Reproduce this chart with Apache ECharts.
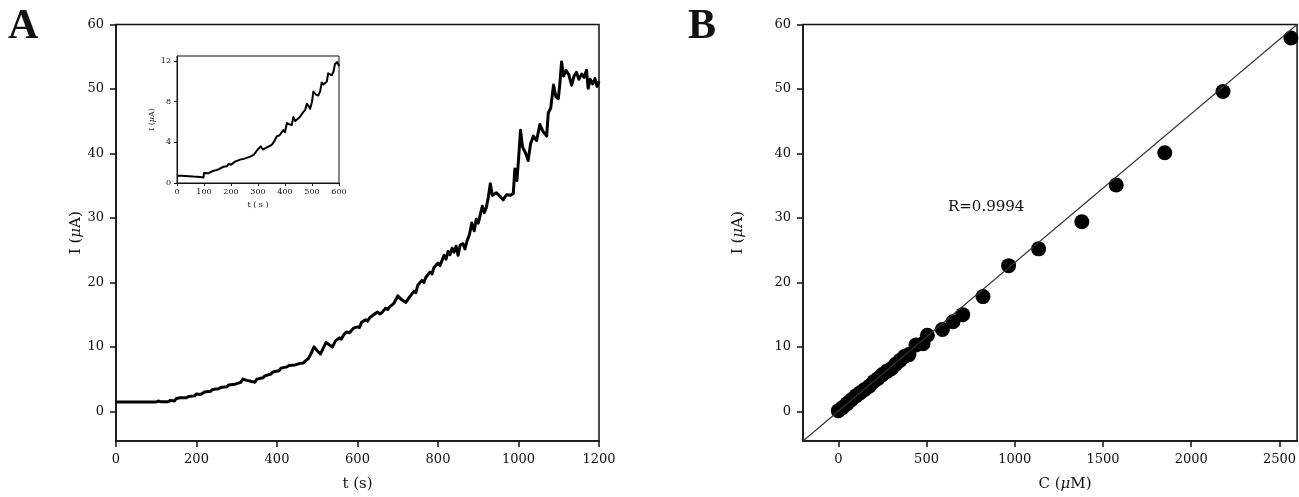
<!DOCTYPE html>
<html>
<head>
<meta charset="utf-8">
<script src="https://cdn.jsdelivr.net/npm/echarts@6/dist/echarts.min.js"></script>
<style>
html,body{margin:0;padding:0;background:#fff;}
#c{width:1299px;height:497px;}
</style>
</head>
<body>
<div id="c"></div>
<script>
// Panel A: amperometric i-t curve, [t (s), I (uA)]
var curveA = [
[0,1.45],[20,1.45],[40,1.45],[60,1.45],[80,1.45],[100,1.45],[105,1.6],[110,1.5],[130,1.5],[135,1.7],[145,1.6],
[150,2.0],[160,2.1],[175,2.1],[180,2.3],[195,2.4],[200,2.7],[210,2.6],[220,3.0],[235,3.1],[240,3.4],[255,3.5],
[260,3.7],[275,3.8],[280,4.1],[295,4.2],[300,4.3],[310,4.5],[315,5.0],[325,4.8],[340,4.6],[345,4.5],[350,5.0],
[365,5.2],[370,5.5],[385,5.8],[390,6.1],[405,6.3],[410,6.7],[425,6.9],[430,7.1],[445,7.2],[455,7.4],[465,7.5],
[470,7.8],[478,8.2],[485,9.0],[492,10.0],[500,9.4],[508,8.9],[515,9.8],[522,10.7],[530,10.3],[538,10.0],[545,10.9],
[555,11.4],[560,11.2],[565,11.8],[572,12.3],[580,12.2],[590,12.9],[600,13.1],[605,13.0],[610,13.8],[620,14.2],[625,14.0],[630,14.5],[640,15.0],
[650,15.4],[655,15.1],[660,15.3],[670,16.0],[675,15.8],[680,16.2],[690,16.7],[700,17.9],[710,17.3],[720,16.9],[730,17.8],[740,18.6],
[745,18.4],[750,19.6],[760,20.3],[765,20.0],[770,20.8],[780,21.6],[785,21.3],[790,22.3],[800,23.0],[805,22.6],[810,23.4],[815,24.2],[820,23.6],[825,24.8],
[830,24.3],[835,25.3],[840,24.7],[845,25.6],[850,24.2],[855,25.8],[862,26.0],[867,25.2],[872,26.4],[878,27.4],
[884,29.2],[890,28.0],[895,29.8],[900,29.2],[905,30.5],[910,31.8],[915,30.8],[920,31.6],[925,33.2],[930,35.3],[935,33.5],
[945,33.9],[955,33.3],[962,32.8],[970,33.6],[980,33.5],[987,33.8],[991,37.6],[996,35.8],[1000,39.0],[1005,43.6],
[1010,41.0],[1018,40.0],[1024,38.9],[1030,41.5],[1037,42.7],[1045,42.0],[1053,44.5],[1060,43.5],[1070,42.7],
[1074,46.3],[1080,47.0],[1087,50.6],[1093,48.8],[1099,48.5],[1103,51.0],[1107,54.2],[1112,52.0],[1118,52.9],
[1125,52.2],[1132,50.6],[1138,52.0],[1144,52.6],[1150,51.5],[1157,52.3],[1163,51.8],[1169,52.9],[1173,50.1],
[1178,51.5],[1184,50.8],[1190,51.6],[1195,50.4],[1200,51.2]
];
// Inset: [t (s), I (uA)]
var curveInset = [
[0,0.71],[15,0.71],[30,0.70],[37,0.65],[60,0.63],[86,0.59],[98,0.55],[100,0.98],[115,0.95],[130,1.15],[150,1.3],
[172,1.6],[185,1.65],[191,1.9],[200,1.8],[215,2.1],[234,2.3],[250,2.4],[271,2.6],[285,2.8],[296,3.2],[310,3.6],
[318,3.3],[326,3.4],[340,3.6],[351,3.75],[360,4.1],[370,4.6],[380,4.7],[394,5.2],[400,5.0],[407,5.9],[415,5.8],
[425,5.7],[431,6.5],[438,6.1],[444,6.2],[455,6.5],[468,7.0],[475,7.2],[481,7.8],[487,7.6],[493,7.3],[500,8.0],
[505,9.0],[515,8.7],[523,8.6],[530,9.0],[536,9.9],[542,9.7],[548,9.6],[555,10.0],[560,10.8],[567,10.7],
[573,10.6],[580,11.0],[585,11.7],[594,11.9],[600,11.5]
];
// Panel B: calibration points
var concB = [0,25,50,75,100,125,150,175,200,225,250,275,300,325,350,375,400,440,480,505,590,650,705,820,965,1135,1380,1575,1850,2180,2565];
var currB = [0.1,0.6,1.2,1.8,2.4,2.9,3.4,3.9,4.6,5.1,5.7,6.2,6.6,7.3,7.9,8.5,8.8,10.3,10.5,11.8,12.7,13.9,15.0,17.8,22.6,25.2,29.4,35.1,40.1,49.6,57.9];
var fitLine = [[-200,-4.6],[2600,60.0]];
var yTicks = [0,10,20,30,40,50,60];
var xTicksA = [0,200,400,600,800,1000,1200];
var xTicksB = [0,500,1000,1500,2000,2500];
var xTicksInset = [0,100,200,300,400,500,600];
var yTicksInset = [0,4,8,12];

var F = 'DejaVu Serif';
var TC = '#111';
var AC = '#111';
function plain(v){ return String(v); }

function axisCommon(fs, tickLen, lineW){
  return {
    axisLine:{show:true,onZero:false,lineStyle:{color:AC,width:lineW}},
    axisTick:{show:true,inside:false,length:tickLen,lineStyle:{color:AC,width:lineW}},
    splitLine:{show:false},
    axisLabel:{fontFamily:F,fontSize:fs,color:TC}
  };
}
function mk(base, extra){
  var o = JSON.parse(JSON.stringify(base));
  for (var k in extra){
    if (typeof extra[k]==='object' && !Array.isArray(extra[k]) && o[k]) { for (var j in extra[k]) o[k][j]=extra[k][j]; }
    else o[k]=extra[k];
  }
  o.axisLabel.formatter = plain;
  return o;
}
var nameRich = {
  n:{fontFamily:F,fontSize:15,color:TC},
  m:{fontFamily:F,fontSize:15,color:TC,fontStyle:'italic'}
};
var nameRichS = {
  n:{fontFamily:F,fontSize:8,color:TC},
  m:{fontFamily:F,fontSize:8,color:TC,fontStyle:'italic'}
};

var main = axisCommon(13,6,1.5);
var small = axisCommon(8,3,1);

var xAxes = [
  mk(main,{gridIndex:0,type:'value',min:0,max:1200,name:'t (s)',nameLocation:'middle',nameGap:36,
    nameTextStyle:{fontFamily:F,fontSize:15,color:TC},
    axisTick:{customValues:xTicksA},axisLabel:{customValues:xTicksA,margin:12}}),
  mk(main,{gridIndex:1,type:'value',min:-200,max:2600,name:'{n|C (}{m|μ}{n|M)}',nameLocation:'middle',nameGap:36,
    nameTextStyle:{rich:nameRich,padding:[0,0,0,30]},
    axisTick:{customValues:xTicksB},axisLabel:{customValues:xTicksB,margin:12}}),
  mk(small,{gridIndex:2,type:'value',min:0,max:600,name:'{n|t ( s )}',nameLocation:'middle',nameGap:18,
    nameTextStyle:{rich:nameRichS},
    axisTick:{customValues:xTicksInset},axisLabel:{customValues:xTicksInset,margin:5}})
];
var yAxes = [
  mk(main,{gridIndex:0,type:'value',min:-4.6,max:60,name:'{n|I (}{m|μ}{n|A)}',nameLocation:'middle',nameGap:25,
    nameTextStyle:{rich:nameRich},
    axisTick:{customValues:yTicks},axisLabel:{customValues:yTicks,margin:12}}),
  mk(main,{gridIndex:1,type:'value',min:-4.6,max:60,name:'{n|I (}{m|μ}{n|A)}',nameLocation:'middle',nameGap:57,
    nameTextStyle:{rich:nameRich},
    axisTick:{customValues:yTicks},axisLabel:{customValues:yTicks,margin:12}}),
  mk(small,{gridIndex:2,type:'value',min:0,max:12.5,name:'{n|I (}{m|μ}{n|A)}',nameLocation:'middle',nameGap:21,
    nameTextStyle:{rich:nameRichS},
    axisTick:{customValues:yTicksInset},axisLabel:{customValues:yTicksInset,margin:6}})
];

var chart = echarts.init(document.getElementById('c'), null, {renderer:'canvas'});
chart.setOption({
  backgroundColor:'#fff',
  animation:false,
  grid:[
    {left:116,top:24.5,width:483,height:423.5,show:true,borderColor:AC,borderWidth:1.5,containLabel:false},
    {left:803,top:24.5,width:495,height:423.5,show:true,borderColor:AC,borderWidth:1.5,containLabel:false},
    {left:177,top:56,width:162,height:127,show:true,borderColor:AC,borderWidth:1,containLabel:false}
  ],
  xAxis:xAxes,
  yAxis:yAxes,
  series:[
    {type:'line',xAxisIndex:0,yAxisIndex:0,data:curveA,showSymbol:false,symbol:'none',
      lineStyle:{color:'#000',width:3,join:'round'}},
    {type:'line',xAxisIndex:2,yAxisIndex:2,data:curveInset,showSymbol:false,symbol:'none',
      lineStyle:{color:'#000',width:2,join:'round'}},
    {type:'line',xAxisIndex:1,yAxisIndex:1,data:fitLine,showSymbol:false,symbol:'none',
      lineStyle:{color:'#333',width:1.1}},
    {type:'scatter',xAxisIndex:1,yAxisIndex:1,symbol:'circle',symbolSize:15,
      itemStyle:{color:'#000',opacity:1},
      data:concB.map(function(c,i){return [c,currB[i]];})}
  ],
  graphic:[
    {type:'text',left:8,top:6,style:{text:'A',fontFamily:'Liberation Serif',fontWeight:'bold',fontSize:42,fill:'#111'}},
    {type:'text',left:688,top:6,style:{text:'B',fontFamily:'Liberation Serif',fontWeight:'bold',fontSize:42,fill:'#111'}},
    {type:'text',left:948,top:200,style:{text:'R=0.9994',fontFamily:F,fontSize:15,fill:TC}}
  ]
});
</script>
</body>
</html>
